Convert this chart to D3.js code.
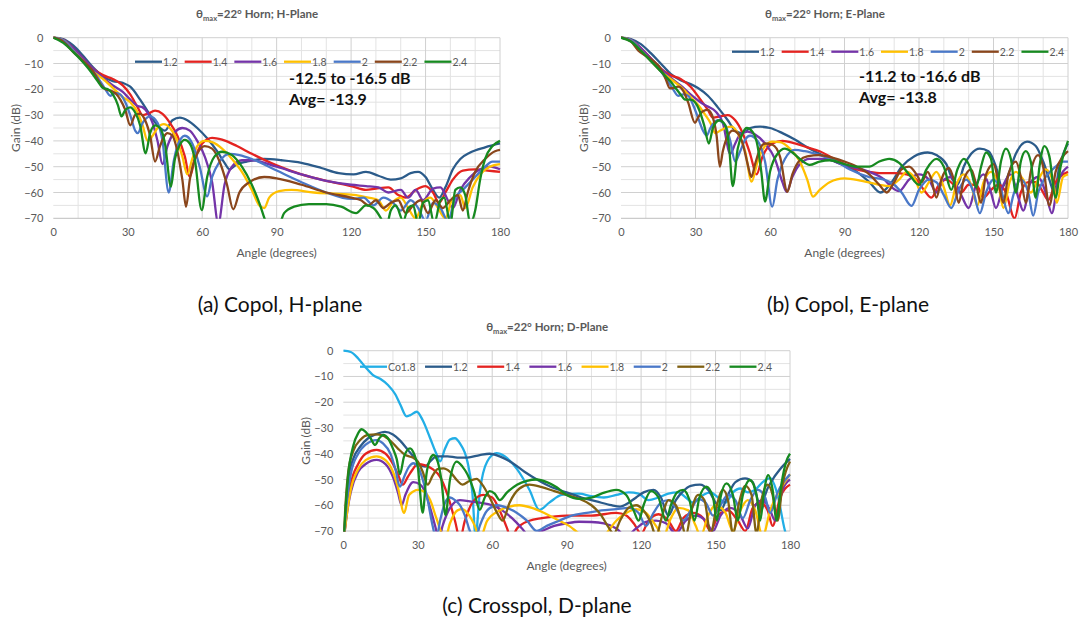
<!DOCTYPE html>
<html>
<head>
<meta charset="utf-8">
<script src="https://cdn.jsdelivr.net/npm/d3@7"></script>
<style>
  body { margin: 0; background: #fff; }
  svg { display: block; }
  text { font-family: Lato, 'Open Sans', sans-serif; }
</style>
</head>
<body>
<div id="chart"></div>
<script>
// tick values shared by the three panels
var angleTicks = [0, 30, 60, 90, 120, 150, 180]
var gainTicks = [0, -10, -20, -30, -40, -50, -60, -70]
var seriesNames = ['1.2', '1.4', '1.6', '1.8', '2', '2.2', '2.4']

// (a) copol, H-plane : [angle, gain dB]
var h12 = [[0,0],[4,-0.5],[8,-3],[12,-7],[16,-11.5],[20,-15],[24,-16.8],[28,-17.5],[31,-19],[35,-24],[39,-30],[42,-34],[45,-36],[48,-32],[51,-31],[54,-32],[58,-35],[62,-39],[66,-44],[69,-48.5],[71,-51],[74,-49],[78,-48],[85,-47],[92,-47.5],[100,-48.5],[108,-50.5],[115,-52.5],[121,-53],[126,-52],[131,-53.5],[136,-55],[140,-54.5],[144,-52.5],[147,-52],[150,-54],[153,-59],[155.5,-62],[158,-58],[161,-51],[164,-47],[168,-44.5],[174,-42.5],[180,-41]]
var h14 = [[0,0],[4,-0.8],[8,-4],[12,-8],[16,-12],[20,-14.5],[24,-16],[28,-18.5],[31,-22],[34,-27],[36,-30],[38,-29.5],[41,-28.3],[44,-29.5],[47,-33],[50,-38],[53,-46],[55,-54],[57,-47],[60,-41],[64,-38.8],[68,-39.5],[74,-42],[80,-45],[90,-49.5],[100,-53],[110,-55.5],[120,-57.5],[126,-59],[130,-58.5],[135,-58],[139,-61],[142,-62],[146,-59],[150,-57.5],[153,-60],[155.5,-64],[158,-60],[161,-55],[165,-51.5],[170,-51],[175,-51.5],[180,-52]]
var h16 = [[0,0],[4,-0.8],[8,-4],[12,-8],[16,-12],[20,-15.5],[24,-18.5],[28,-21],[31,-24],[34,-26.5],[36,-27],[38,-29],[40,-33],[42,-40],[44,-49],[46,-42],[49,-36.5],[52,-35],[55,-36],[58,-40],[61,-46],[64,-56],[66.5,-72],[69,-57],[72,-50],[76,-47.5],[80,-47.5],[90,-50],[100,-53],[110,-55.5],[120,-57],[126,-57.5],[131,-58],[135,-60],[140,-59],[143,-62],[146,-59],[149,-63],[153,-58.5],[156,-58],[159,-63],[161,-66],[164,-59],[168,-54],[172,-51],[176,-50],[180,-51]]
var h18 = [[0,0],[4,-1],[8,-5],[12,-9],[16,-13],[20,-16],[24,-19.5],[28,-23],[31,-25],[34,-29],[36,-34],[38,-40],[40,-38],[42,-35],[44.5,-33.5],[47,-35],[50,-40],[52,-46],[54,-53],[56,-47],[58,-42],[61,-40],[64,-40.5],[68,-43],[72,-47],[76,-52],[80,-59],[83,-65],[85,-66],[87,-62],[91,-59.5],[96,-59],[105,-60],[115,-60.5],[122,-61],[127,-62],[131,-63],[134,-67],[137,-63.5],[140,-62],[143,-66],[146,-70],[149,-64],[152,-62],[155,-66],[158,-70],[161,-62],[164,-61],[166,-66],[169,-58],[172,-53],[176,-50],[180,-49]]
var h20 = [[0,0],[4,-1],[8,-5],[12,-9],[16,-13],[19,-17],[21,-20],[23,-22.5],[25,-21.5],[27,-22],[29,-25],[31,-30],[33,-36],[34,-37],[36,-33],[39,-30.5],[42,-33],[44,-40],[46.5,-60],[48.5,-48],[50,-42],[53,-38],[56,-41],[59,-50],[62,-61.5],[64,-54],[67,-48],[71,-45],[75,-45.5],[80,-47],[90,-51.5],[100,-56],[110,-60],[120,-62.5],[125,-62],[129,-65],[133,-62],[137,-64],[140,-67],[144,-63],[147,-66],[150,-71],[153,-64],[156,-66],[159,-71],[162,-62],[165,-59],[169,-55],[173,-51],[177,-48],[180,-48]]
var h22 = [[0,0],[4,-1.5],[8,-5.5],[12,-9],[16,-13],[19,-18],[21,-20],[23,-20.5],[25,-21.5],[27,-24],[29,-28],[31,-34],[33,-30],[35,-29.5],[37,-32],[39,-38],[41,-48],[43,-42],[46,-37],[48,-38],[50,-44],[52,-55],[53.5,-65.5],[55,-55],[58,-45],[61,-42],[64,-43],[67,-48],[70,-57],[72.5,-66.5],[75,-60],[79,-56],[85,-54],[90,-54.5],[100,-57],[110,-60],[120,-62],[124,-63],[127,-65],[130,-63],[133,-66],[136,-64],[139,-63],[142,-68],[145,-65],[148,-63],[151,-68],[154,-63],[157,-66],[160,-63],[163,-61],[165,-67],[167,-60],[170,-52],[174,-47],[178,-44],[180,-43.5]]
var h24 = [[0,0],[4,-2],[8,-5.5],[12,-9.5],[15,-13],[18,-17],[20,-19.5],[22,-20],[24,-22],[26,-26],[27.5,-30.5],[29,-28],[31,-27],[33,-29],[35,-34],[37.2,-44.8],[39,-37],[41,-34],[43,-35],[45,-41],[47.4,-57.7],[49,-47],[51,-41.5],[53,-39.6],[55,-41],[57,-47],[59.8,-66.8],[62,-54],[65,-46],[68,-44.2],[72,-45.5],[76,-50],[80,-57],[83,-64],[86,-72],[90,-75],[93,-68],[97,-65.5],[103,-64.5],[110,-64.5],[116,-65.5],[122,-68],[126,-65],[129,-66],[132,-70],[134,-74],[136,-67],[138,-65],[141,-71],[143,-66],[145,-65],[147,-72],[149,-64],[151,-63],[153.5,-72],[156,-63],[157.5,-62],[160,-72],[162,-59],[164,-58],[166,-61],[168,-72],[170,-67],[172,-55],[174,-47],[177,-42],[180,-40]]

// (b) copol, E-plane
var e12 = [[0,0],[4,-0.5],[8,-2.5],[12,-6],[16,-10],[20,-14],[24,-16.5],[28,-18],[31,-19.5],[35,-22.5],[39,-27],[43,-32],[46,-36],[49,-37],[52,-35],[56,-34.5],[60,-35],[65,-37],[70,-39.5],[75,-42.5],[80,-45],[85,-47.5],[90,-49.5],[95,-52],[100,-56],[104.5,-60],[109,-56],[113,-50],[118,-46],[123.5,-44.5],[127,-45.5],[131,-49],[133.5,-55],[135.5,-57],[138,-50],[141,-45],[144.5,-43],[148,-44],[151,-50],[153.5,-58],[156,-53],[159,-45],[163.5,-40.3],[167,-42],[170,-48],[172.5,-55],[174.5,-60],[176.5,-50],[178.5,-44],[180,-41]]
var e14 = [[0,0],[4,-1],[8,-4],[12,-8],[16,-12],[20,-14.5],[24,-16],[28,-19],[32,-24],[35,-28],[37,-31],[40,-30.5],[43,-30],[46,-32],[49,-37],[52,-45],[54.6,-53],[57,-46],[61,-41],[65,-40],[70,-41],[75,-42.5],[80,-44],[85,-46.5],[90,-49],[95,-51],[100,-52],[105,-52.5],[110,-52.5],[115,-53],[119,-55],[122,-59],[125,-62],[128,-57],[131,-55],[134,-57],[137,-60],[140,-57],[143,-57],[146,-62],[149,-59],[152,-57],[155,-60],[158.5,-70],[161,-60],[164,-56],[167,-56],[170,-60],[172,-63],[175,-56],[178,-53],[180,-52]]
var e16 = [[0,0],[4,-0.8],[8,-4],[12,-8],[16,-12],[20,-15.5],[24,-18.5],[28,-22],[32,-25],[35,-26.7],[38,-28.5],[41,-33],[44,-45],[46,-41],[48,-37.5],[51,-36.4],[54,-37.5],[58,-41],[62,-47],[65,-56],[66.7,-59.7],[69,-54],[72,-49],[76,-47],[82,-47],[90,-49.5],[100,-52],[106,-55],[109,-58],[112,-59.5],[116,-55],[120,-53],[124,-55],[127,-60],[130,-55],[133,-54],[137,-61],[140,-66],[143,-57],[146,-53],[149,-60],[151,-66],[154,-57],[157,-53],[160,-62],[162,-67],[165,-56],[168,-54],[171,-60],[173.5,-68],[176,-56],[180,-50]]
var e18 = [[0,0],[4,-1],[8,-5],[12,-9],[16,-13],[20,-16],[24,-19],[28,-23],[31,-26],[34,-30],[36,-33],[38,-37],[40,-36],[42,-35],[44.6,-34.5],[47,-37],[50,-44],[52.6,-55.8],[55,-48],[58,-42],[61,-40.3],[64,-40.5],[68,-43],[72,-48],[75,-55],[77.3,-61.6],[80,-59],[84,-56],[90,-54.5],[97,-55.5],[104,-57],[108,-57.5],[112,-55],[115,-52],[118,-54],[121,-60],[124,-56],[127,-52],[130,-58],[132.5,-65],[135,-57],[138,-53],[141,-57],[143.5,-65],[146,-56],[149,-52],[152,-57],[154,-66],[156.5,-56],[159,-52],[162,-55],[165,-60],[168,-55],[171,-51],[174,-56],[175.5,-64],[178,-54],[180,-53]]
var e20 = [[0,0],[4,-1],[8,-5],[12,-9],[16,-13],[19,-17],[21,-20],[23,-22.5],[25,-22],[27,-22.5],[29,-26],[31,-31],[33,-36],[34.5,-38],[36,-35],[39,-32],[42,-34],[44,-40],[46,-48],[48,-44],[50,-39.5],[52,-38],[55,-40],[58,-48],[60.9,-65.5],[63,-55],[66,-47],[70,-43.5],[74,-44],[80,-45.5],[86,-47.5],[92,-51],[100,-54],[106,-55],[110,-57],[113,-60],[117,-65.2],[120,-59],[124,-55],[127,-56],[130,-61],[133,-66],[136,-59],[139,-55],[142,-60],[144.5,-68],[147,-60],[150,-55],[153,-59],[156,-68],[158,-61],[161,-55],[164,-60],[166,-69],[168,-60],[171,-54],[175,-50],[178,-48],[180,-48]]
var e22 = [[0,0],[4,-1.5],[7,-5],[10,-7],[13,-9],[16,-12],[18,-16],[19.7,-19.6],[21,-19.5],[23,-19],[25,-20.5],[27,-25],[29.8,-33],[31,-31],[33,-28.5],[35,-28],[37,-31],[38.5,-38],[39.8,-50],[41,-44],[43,-38],[45,-36],[47,-37],[49,-41],[51,-49],[52.5,-54],[54,-49],[56,-43],[58,-41],[61,-41.5],[64,-46],[67,-59.7],[69,-53],[72,-47.5],[75,-46],[80,-45.5],[85,-46.5],[90,-48],[95,-50],[100,-53],[104,-57],[107,-60],[110,-56],[113,-51],[116,-50],[119,-53],[121,-56],[123.5,-52],[125,-55],[127,-62],[129,-55],[132,-50.5],[134,-55],[136,-64],[138,-55],[141,-51],[143,-57],[145,-64],[147,-53],[150,-49],[152,-56],[154,-64],[156,-53],[159,-48],[161,-54],[163,-64],[165,-52],[168,-45.5],[170,-50],[172.5,-65],[175,-52],[178,-46],[180,-44]]
var e24 = [[0,0],[4,-1.5],[8,-5],[12,-9],[15,-12],[18,-15],[20,-17],[22,-19.5],[24,-22],[25.8,-24],[28,-24],[29.8,-25],[31.5,-28],[33.5,-34],[35.4,-41],[37,-35],[39.6,-32],[42,-34],[43.5,-42],[45,-57.5],[47,-43],[49,-37],[50.6,-35],[53,-36.5],[55,-42],[56.5,-52],[58,-63.5],[60,-52],[63,-45],[66,-43],[69,-44.5],[72,-47],[76,-49.3],[80,-48],[84,-47.5],[90,-49],[95,-50],[100,-50],[104,-48],[108,-47],[112,-48.5],[116,-53],[120,-57],[123,-51],[127,-47],[130,-50],[133,-59],[135.5,-51],[138,-47],[140.5,-50],[143,-58],[145,-50],[147,-44.5],[149,-47],[151,-60],[153,-48],[155,-43],[157,-47],[159,-60],[161,-48],[163,-44],[165,-48],[167,-62],[168.5,-50],[170.5,-42],[172.5,-46],[175,-62],[177,-50],[180,-40]]

// (c) crosspol, D-plane (plus the copol 1.8 reference)
var dCo18 = [[0,0],[3,-0.5],[6,-3],[9,-6.5],[12,-9.5],[15,-11],[18,-13.3],[21,-17],[23,-21],[25.5,-25.5],[27,-25],[29.6,-23.7],[32,-27],[35,-34],[37.5,-40],[39,-43],[41,-38],[43,-34.5],[45,-34],[47,-36],[50,-43],[52,-55],[53.3,-72],[55,-55],[58,-43],[61.8,-39.8],[65,-41],[70,-46],[75,-54],[79,-61.8],[83,-59],[88,-56],[95,-55.5],[100,-56.5],[105,-57],[110,-56],[115,-55],[119,-55.5],[123,-58],[127,-57],[131,-55.5],[135,-55],[138,-57],[141,-59],[145,-56],[148,-55],[151,-57],[154,-59],[157,-55],[160,-53.5],[163,-55],[166,-54],[169,-51],[172,-49.5],[175,-56],[178,-70],[180,-75]]
var d12 = [[0,-75],[1,-62],[2,-50],[4,-42],[7,-37],[10,-34],[13,-32.5],[16.8,-31.5],[20,-32.5],[23,-35],[26,-38.5],[29,-42],[31,-44.5],[33,-45],[35,-43],[37.6,-41],[42,-41],[46,-41.5],[50,-41.5],[55,-40.5],[59,-40],[63,-41],[68,-43.5],[73,-47],[78,-50],[84,-53],[90,-55],[96,-57],[102,-58.5],[108,-60],[111.5,-60.5],[115,-59],[118,-57],[121,-55],[125,-54],[128,-57],[131,-64],[134,-58],[137,-54.5],[140,-52.5],[143.7,-52],[147,-54],[150,-59],[152,-62],[155,-56],[158,-51],[161.9,-49.6],[165,-51],[167,-58],[168.5,-62],[170,-56],[173,-50],[176,-46],[180,-42]]
var d14 = [[0,-75],[1.5,-62],[3,-52],[6,-44],[9,-40],[13.4,-38.5],[17,-40],[20,-44],[22,-48],[24,-52],[26,-49],[28,-46],[30,-44],[33,-44.5],[36,-46],[39,-49],[42,-56],[45,-66],[47,-73],[49,-66],[52,-59],[56.4,-56],[60,-57],[63,-62],[66,-69],[67.5,-73],[70,-69],[75,-66],[80,-65],[90,-64],[100,-64],[110,-63],[114,-64],[117,-67],[120,-71],[123,-66],[127,-63.5],[131,-66],[134,-70],[137,-65],[141,-63],[145,-65],[148,-70],[151,-64],[155,-62],[159,-66],[162,-70],[165,-61],[168,-59],[171,-62],[173,-68],[176,-57],[180,-52]]
var d16 = [[0,-75],[1.5,-63],[3,-55],[6,-47],[9,-44],[13.4,-42.4],[17,-44],[20,-49],[22,-55],[23.5,-60],[25,-56],[28.2,-51],[31,-52],[33,-55],[35,-61],[37,-68],[38.5,-73],[40,-68],[43,-61],[47,-58],[51,-58.5],[55,-59],[60,-60],[64,-62],[68,-65],[72,-69],[75,-72],[80,-70],[85,-68],[90,-67],[95,-66.4],[100,-66.5],[105,-67],[110,-69],[114,-72],[118,-69],[122,-66.5],[126,-66],[130,-67],[134,-71],[138,-66],[142,-64],[146,-66],[149,-70],[152,-64],[156,-61],[160,-64],[163,-69],[166,-60],[169,-58],[172,-62],[174,-66],[177,-54],[180,-50]]
var d18 = [[0,-75],[1.5,-63],[3,-54],[6,-46],[9,-42.5],[13.4,-41],[17,-42.5],[20,-47],[22,-53],[24.5,-63],[26.5,-56],[30.2,-54],[33,-55],[35,-58],[37.5,-65],[41,-73],[43,-67],[46,-62],[48,-61.5],[50,-63],[53,-68],[55,-73],[58,-66],[63,-62],[67,-60.5],[71,-60],[76,-61],[81,-63],[86,-65.5],[91,-68],[95,-71],[100,-74],[105,-72],[110,-66],[114,-63],[118,-61.5],[122,-63],[126,-68],[129,-72],[132,-65],[135,-61],[139,-62],[142,-68],[144,-72],[147,-64],[150,-60],[154,-63],[157,-70],[160,-62],[163,-58],[166,-62],[169,-72],[172,-62],[176,-54],[180,-48]]
var d20 = [[0,-75],[1.5,-58],[3,-48],[6,-40],[9,-36.5],[13.4,-34.7],[16,-36],[19,-40],[21,-46],[22.8,-52.8],[24.5,-49],[26.5,-45],[28.2,-43.7],[30,-45],[32,-50],[34,-58],[36,-68],[37.5,-73],[39,-66],[41,-59],[43,-57],[45,-58],[47,-60],[49,-64],[51,-70],[53,-74],[55,-68],[58,-62],[62,-60],[66,-61],[70,-63],[74,-66],[78,-70],[82,-68],[87,-66],[92,-64],[98,-63],[104,-62],[110,-61.5],[115,-61],[119,-63],[122,-68],[125,-63],[128,-59],[131,-58],[134,-61],[137,-66],[140,-62],[143,-57.5],[146,-59],[149,-64],[152,-60],[155,-56],[158,-58],[161,-65],[164,-58],[167,-54],[170,-57],[172,-63],[175,-55],[180,-48]]
var d22 = [[0,-75],[1,-58],[2,-47],[4,-39],[7,-34.5],[10,-32.7],[13,-32.5],[16,-33],[19,-35],[22,-38],[25,-40.5],[28,-41.5],[30,-43],[32,-47],[34,-52],[36,-48.5],[38,-46],[40.3,-45.7],[43,-47],[46,-50.5],[48,-52],[51,-50.5],[53.7,-49.8],[56,-52],[59,-57],[62,-63],[64.2,-66],[67,-59],[71,-53.5],[75,-52],[80,-53],[85,-54.5],[90,-56],[95,-57.5],[100,-60],[104,-64],[106.5,-68],[109,-71],[111.5,-66],[115,-61],[118,-60],[121,-62],[124,-67],[126,-72],[128.5,-64],[131,-58],[134,-60],[136.5,-67],[138,-72],[140,-63],[143,-56],[145.5,-58],[148,-71],[150.5,-60],[153,-54],[155,-58],[157,-71],[159.5,-59],[162,-52.5],[164.5,-56],[166.5,-71],[168.5,-58],[171,-52],[173,-56],[175,-66],[177,-52],[180,-43]]
var d24 = [[0,-75],[1,-60],[2,-48],[4,-37],[6,-32],[7.4,-30.5],[9,-31.5],[11,-34],[12.8,-36.6],[14.5,-34],[16.1,-32.7],[18,-34],[20,-38],[21.5,-42],[22.8,-48],[24.5,-41],[26.9,-37.9],[28.5,-40],[30,-45],[32,-62.9],[33.5,-48],[35,-42],[36.3,-40.5],[38,-43],[39.5,-50],[41.2,-63.8],[43,-50],[45.7,-43.1],[48,-45],[50,-48],[52.5,-54],[55,-61.8],[57,-57],[59,-54.5],[61,-55.5],[63,-58],[66,-55],[70,-52],[74,-50.5],[78,-50],[82,-51],[86,-53],[90,-56],[95,-57.5],[100,-57],[104,-55.5],[110,-54],[114,-56],[117,-62],[119,-66],[121,-60],[124,-54.5],[127,-57],[130,-66],[132,-60],[134.5,-55],[137,-54],[139.5,-58],[141.5,-66],[143.5,-57],[146.3,-52.8],[149,-57],[150.5,-66],[152,-57],[154.4,-51.5],[157,-56],[159,-66],[161,-56],[163.8,-50.2],[166.5,-56],[168,-66],[169.5,-55],[171.2,-48.3],[173,-54],[174.5,-66],[176.5,-52],[178.5,-43],[180,-40]]

// series colours
var colH = ['#2b5b8a', '#e42320', '#7434a8', '#ffc000', '#4a78c8', '#8a461c', '#178a20']
var colD = ['#22aee6', '#2b5b8a', '#e42320', '#7434a8', '#ffc000', '#4a78c8', '#806012', '#178a20']

var svg = d3.select('#chart').append('svg')
  .attr('width', 1081)
  .attr('height', 627)

var panels = [
  { id: 'a', plane: 'H-Plane', left: 53.3, right: 500, top: 37.7, bottom: 218.3,
    titleY: 18, legendX: 135, legendY: 61.7, legendGap: 7,
    names: seriesNames, colors: colH, data: [h12, h14, h16, h18, h20, h22, h24],
    annot: ['-12.5 to -16.5 dB', 'Avg= -13.9'], annotX: 289, annotY: 84,
    caption: '(a) Copol, H-plane', capX: 280, capY: 312 },
  { id: 'b', plane: 'E-Plane', left: 621, right: 1068, top: 37.7, bottom: 218.3,
    titleY: 18, legendX: 732, legendY: 51.7, legendGap: 7,
    names: seriesNames, colors: colH, data: [e12, e14, e16, e18, e20, e22, e24],
    annot: ['-11.2 to -16.6 dB', 'Avg= -13.8'], annotX: 859, annotY: 82,
    caption: '(b) Copol, E-plane', capX: 848, capY: 312 },
  { id: 'c', plane: 'D-Plane', left: 343.3, right: 790, top: 350.7, bottom: 531,
    titleY: 331, legendX: 360, legendY: 366.7, legendGap: 9.5,
    names: ['Co1.8'].concat(seriesNames), colors: colD, data: [dCo18, d12, d14, d16, d18, d20, d22, d24],
    annot: null,
    caption: '(c) Crosspol, D-plane', capX: 537, capY: 613 }
]

panels.forEach(drawPanel)

function drawPanel (p) {
  var x = d3.scaleLinear().domain([0, 180]).range([p.left, p.right])
  var y = d3.scaleLinear().domain([-70, 0]).range([p.bottom, p.top])
  var g = svg.append('g').attr('id', 'panel-' + p.id)

  // minor grid (10 deg, 5 dB)
  g.append('g').selectAll('line')
    .data(d3.range(10, 180, 10).filter(function (d) { return d % 30 !== 0 }))
    .enter().append('line')
    .attr('x1', function (d) { return x(d) }).attr('x2', function (d) { return x(d) })
    .attr('y1', p.top).attr('y2', p.bottom)
    .attr('stroke', '#e3e3e3')
  g.append('g').selectAll('line')
    .data(d3.range(-65, 0, 10))
    .enter().append('line')
    .attr('y1', function (d) { return y(d) }).attr('y2', function (d) { return y(d) })
    .attr('x1', p.left).attr('x2', p.right)
    .attr('stroke', '#e3e3e3')
  // major grid
  g.append('g').selectAll('line')
    .data(angleTicks.slice(1))
    .enter().append('line')
    .attr('x1', function (d) { return x(d) }).attr('x2', function (d) { return x(d) })
    .attr('y1', p.top).attr('y2', p.bottom)
    .attr('stroke', '#d0d0d0')
  g.append('g').selectAll('line')
    .data(gainTicks.slice(0, -1))
    .enter().append('line')
    .attr('y1', function (d) { return y(d) }).attr('y2', function (d) { return y(d) })
    .attr('x1', p.left).attr('x2', p.right)
    .attr('stroke', '#d0d0d0')
  g.append('line')
    .attr('x1', p.left).attr('x2', p.right)
    .attr('y1', p.bottom).attr('y2', p.bottom)
    .attr('stroke', '#bfbfbf')

  // axes
  var gx = g.append('g')
    .attr('transform', 'translate(0,' + p.bottom + ')')
    .call(d3.axisBottom(x).tickValues(angleTicks).tickSize(0).tickPadding(10))
  var gy = g.append('g')
    .attr('transform', 'translate(' + p.left + ',0)')
    .call(d3.axisLeft(y).tickValues(gainTicks).tickSize(0).tickPadding(10))
  ;[gx, gy].forEach(function (a) {
    a.select('.domain').remove()
    a.selectAll('text')
      .attr('fill', '#595959')
      .style('font-size', '11px')
      .style('font-family', 'Lato, sans-serif')
  })

  // curves
  g.append('clipPath').attr('id', 'clip-' + p.id)
    .append('rect')
    .attr('x', p.left).attr('y', p.top - 3)
    .attr('width', p.right - p.left + 2).attr('height', p.bottom - p.top + 3.5)
  var line = d3.line()
    .x(function (d) { return x(d[0]) })
    .y(function (d) { return y(d[1]) })
    .curve(d3.curveMonotoneX)
  g.append('g').attr('clip-path', 'url(#clip-' + p.id + ')')
    .selectAll('path')
    .data(p.data)
    .enter().append('path')
    .attr('d', line)
    .attr('fill', 'none')
    .attr('stroke', function (d, i) { return p.colors[i] })
    .attr('stroke-width', 2.3)
    .attr('stroke-linejoin', 'round')

  // legend
  var lg = g.append('g')
  var cx = p.legendX
  p.names.forEach(function (name, i) {
    lg.append('line')
      .attr('x1', cx).attr('x2', cx + 27)
      .attr('y1', p.legendY).attr('y2', p.legendY)
      .attr('stroke', p.colors[i]).attr('stroke-width', 2.3)
    var t = lg.append('text')
      .attr('x', cx + 28).attr('y', p.legendY + 3.8)
      .attr('fill', '#595959')
      .style('font-size', '10.5px')
      .text(name)
    cx += 28 + t.node().getComputedTextLength() + p.legendGap
  })

  // chart title (sits a little left of the plot centre)
  var title = g.append('text')
    .attr('x', (p.left + p.right) / 2 - 19.5).attr('y', p.titleY)
    .attr('text-anchor', 'middle')
    .attr('fill', '#595959')
    .style('font-size', '11.5px').style('font-weight', 'bold')
  title.append('tspan').text('θ')
  title.append('tspan').attr('dy', 3).style('font-size', '7.5px').text('max')
  title.append('tspan').attr('dy', -3).text('=22° Horn; ' + p.plane)

  // axis titles
  g.append('text')
    .attr('x', (p.left + p.right) / 2).attr('y', p.bottom + 39)
    .attr('text-anchor', 'middle')
    .attr('fill', '#595959')
    .style('font-size', '12px')
    .text('Angle (degrees)')
  g.append('text')
    .attr('transform', 'translate(' + (p.left - 33) + ',' + (p.top + p.bottom) / 2 + ') rotate(-90)')
    .attr('text-anchor', 'middle')
    .attr('fill', '#595959')
    .style('font-size', '12px')
    .text('Gain (dB)')

  // bandwidth annotation
  if (p.annot) {
    p.annot.forEach(function (s, i) {
      g.append('text')
        .attr('x', p.annotX).attr('y', p.annotY + i * 21)
        .attr('fill', '#111')
        .style('font-size', '16px').style('font-weight', 'bold')
        .text(s)
    })
  }

  // caption
  g.append('text')
    .attr('x', p.capX).attr('y', p.capY)
    .attr('text-anchor', 'middle')
    .attr('fill', '#111')
    .style('font-size', '21px')
    .text(p.caption)
}
</script>
</body>
</html>
